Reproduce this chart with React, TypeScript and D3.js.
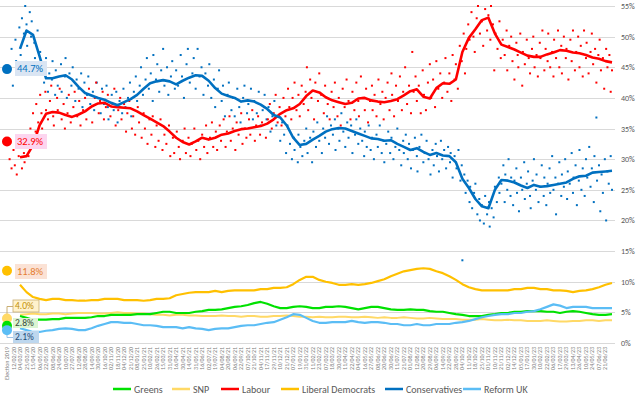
import React, { useEffect, useRef } from "react";
import * as d3 from "d3";

const W = 639;
const H = 398;

// x axis: one slot per tick label, "Election 2019" at slot 0
const tickLabels = [
  "Election 2019",
  "12/02/20", "04/03/20", "25/03/20", "15/04/20", "06/05/20", "22/05/20", "08/06/20", "24/06/20", "10/07/20", "27/07/20",
  "12/08/20", "28/08/20", "14/09/20", "30/09/20", "16/10/20", "02/11/20", "18/11/20", "04/12/20", "21/12/20", "08/01/21",
  "25/01/21", "10/02/21", "26/02/21", "15/03/21", "31/03/21", "16/04/21", "30/04/21", "14/05/21", "31/05/21", "16/06/21",
  "02/07/21", "19/07/21", "04/08/21", "20/08/21", "06/09/21", "22/09/21", "07/10/21", "21/10/21", "04/11/21", "17/11/21",
  "29/11/21", "10/12/21", "21/12/21", "07/01/22", "19/01/22", "31/01/22", "11/02/22", "23/02/22", "07/03/22", "18/03/22",
  "30/03/22", "11/04/22", "22/04/22", "04/05/22", "16/05/22", "27/05/22", "08/06/22", "20/06/22", "30/06/22", "11/07/22",
  "21/07/22", "01/08/22", "12/08/22", "20/08/22", "29/08/22", "06/09/22", "14/09/22", "22/09/22", "28/09/22", "04/10/22",
  "11/10/22", "18/10/22", "25/10/22", "01/11/22", "10/11/22", "21/11/22", "02/12/22", "14/12/22", "05/01/23", "17/01/23",
  "30/01/23", "10/02/23", "22/02/23", "06/03/23", "17/03/23", "29/03/23", "13/04/23", "26/04/23", "10/05/23", "24/05/23",
  "07/06/23", "21/06/23",
];

const yTicks = [0, 5, 10, 15, 20, 25, 30, 35, 40, 45, 50, 55];

// rolling averages, one value per slot starting at slot 2
const firstSlot = 2;

const greens = [
  4.4, 4.1, 3.8, 3.8, 3.8, 3.9, 3.9, 4.1, 4.1, 4.1,
  4.1, 4.2, 4.4, 4.4, 4.6, 4.6, 4.6, 4.6, 4.7, 4.7,
  4.7, 4.9, 5.1, 5.1, 4.9, 4.9, 4.9, 5.1, 5.2, 5.4,
  5.4, 5.5, 5.7, 5.9, 6.0, 6.2, 6.5, 6.7, 6.4, 6.0,
  5.7, 5.7, 5.9, 6.0, 5.9, 5.7, 5.7, 5.9, 5.9, 6.0,
  5.9, 5.7, 5.5, 5.7, 5.9, 5.9, 5.7, 5.5, 5.4, 5.4,
  5.5, 5.4, 5.4, 5.2, 5.1, 5.1, 4.9, 4.7, 4.6, 4.4,
  4.4, 4.4, 4.6, 4.7, 4.9, 4.9, 5.1, 5.1, 5.2, 5.2,
  5.2, 5.1, 5.1, 4.9, 5.1, 5.2, 5.1, 4.9, 4.7, 4.6,
  4.6, 4.7,
];

const snp = [
  4.6, 4.7, 4.8, 4.7, 4.7, 4.8, 4.8, 4.7, 4.8, 4.9,
  4.9, 4.9, 4.8, 4.8, 4.9, 5.0, 4.9, 4.9, 4.8, 4.8,
  4.7, 4.6, 4.6, 4.5, 4.6, 4.6, 4.5, 4.5, 4.4, 4.4,
  4.4, 4.5, 4.4, 4.4, 4.3, 4.4, 4.4, 4.3, 4.3, 4.4,
  4.4, 4.5, 4.4, 4.3, 4.3, 4.2, 4.3, 4.2, 4.2, 4.3,
  4.3, 4.2, 4.2, 4.3, 4.2, 4.1, 4.2, 4.1, 4.1, 4.2,
  4.1, 4.0, 4.0, 4.1, 4.0, 3.9, 3.9, 3.9, 3.8, 3.8,
  3.8, 3.9, 3.8, 3.7, 3.7, 3.8, 3.7, 3.7, 3.6, 3.6,
  3.6, 3.7, 3.6, 3.5, 3.5, 3.6, 3.6, 3.7, 3.7, 3.6,
  3.7, 3.7,
];

const labour = [
  30.3, 30.5, 32.3, 35.5, 37.4, 37.7, 37.6, 37.2, 36.9, 37.3,
  37.8, 38.6, 39.1, 39.2, 38.6, 38.5, 38.4, 38.3, 37.8, 37.2,
  36.6, 36.0, 35.4, 34.5, 33.5, 32.8, 32.4, 32.9, 33.5, 33.2,
  33.5, 34.0, 34.2, 34.6, 34.9, 35.0, 35.2, 35.4, 35.8, 36.5,
  37.4, 38.0, 38.3, 39.0, 40.3, 41.2, 40.9, 40.1, 39.6, 39.3,
  39.0, 39.2, 39.9, 40.0, 39.6, 39.4, 39.3, 39.5, 39.8, 40.4,
  41.1, 41.4, 40.2, 39.9, 41.6, 42.4, 42.3, 43.0, 47.5, 49.8,
  51.2, 52.7, 53.1, 50.5, 48.7, 48.3, 47.9, 47.4, 46.9, 46.7,
  46.7, 47.1, 47.4, 47.8, 47.7, 47.4, 47.3, 47.0, 46.6, 46.4,
  46.0, 45.8,
];

const libDems = [
  9.5, 8.3, 7.5, 7.2, 7.0, 7.2, 7.2, 7.0, 7.0, 6.9,
  6.9, 7.0, 7.0, 7.2, 7.2, 7.2, 7.0, 7.0, 7.0, 6.9,
  7.0, 7.2, 7.2, 7.3, 7.8, 8.0, 8.2, 8.3, 8.3, 8.3,
  8.5, 8.3, 8.5, 8.6, 8.6, 8.6, 8.6, 8.8, 8.8, 9.0,
  9.0, 9.1, 9.6, 10.3, 10.8, 10.8, 10.3, 10.0, 9.8, 9.5,
  9.5, 9.6, 9.5, 9.6, 9.8, 10.1, 10.4, 10.9, 11.3, 11.7,
  11.9, 12.1, 12.2, 12.1, 11.7, 11.4, 10.9, 10.3, 9.6, 9.1,
  8.8, 8.6, 8.6, 8.6, 8.6, 8.6, 8.8, 8.8, 9.0, 9.0,
  8.8, 8.8, 8.6, 8.6, 8.5, 8.3, 8.5, 8.6, 8.8, 9.1,
  9.5, 9.8,
];

const conservatives = [
  48.0, 51.0, 50.3, 46.8, 43.2, 43.2, 43.5, 43.7, 43.0, 41.8,
  40.8, 40.4, 40.0, 39.7, 39.2, 38.8, 39.3, 39.8, 40.5, 41.5,
  42.4, 42.7, 42.9, 42.7, 42.2, 42.8, 43.3, 43.7, 43.6, 42.8,
  41.6, 40.7, 40.3, 40.0, 39.4, 39.6, 39.4, 38.9, 38.2, 37.2,
  36.8, 35.5, 33.5, 32.3, 32.5, 33.2, 33.8, 34.5, 34.9, 35.1,
  35.0, 34.6, 34.2, 33.8, 33.4, 33.3, 33.0, 33.1, 32.5, 32.0,
  31.5, 31.8, 31.2, 30.7, 31.0, 30.6, 30.5, 29.5, 26.8, 25.3,
  23.5, 22.3, 22.0, 25.0, 26.6, 26.5, 26.2, 25.7, 25.3, 25.8,
  25.5, 25.6, 25.8, 26.0, 26.2, 26.8, 27.2, 27.3, 27.8, 27.9,
  28.0, 28.1,
];

const reformUK = [
  2.4, 2.1, 1.8, 1.8, 2.0, 2.1, 2.3, 2.4, 2.3, 2.1,
  2.1, 2.4, 2.8, 3.1, 3.4, 3.4, 3.3, 3.3, 3.1, 2.9,
  2.9, 2.8, 2.6, 2.6, 2.6, 2.4, 2.6, 2.4, 2.3, 2.1,
  2.3, 2.4, 2.4, 2.6, 2.8, 2.9, 2.9, 3.1, 3.3, 3.4,
  3.8, 4.2, 4.7, 4.6, 4.1, 3.6, 3.3, 3.3, 3.4, 3.4,
  3.4, 3.6, 3.4, 3.3, 3.4, 3.4, 3.3, 3.1, 3.1, 2.9,
  2.9, 3.1, 2.9, 2.9, 3.1, 3.1, 3.1, 3.3, 3.4, 3.6,
  3.9, 4.2, 4.4, 4.6, 4.7, 4.7, 4.9, 4.9, 5.1, 5.2,
  5.5, 5.9, 6.3, 6.1, 5.7, 5.9, 5.9, 5.9, 5.7, 5.7,
  5.7, 5.7,
];

// individual polls [slot, value]
const conPolls: [number, number][] = [
  [0.4, 44.5], [0.7, 48], [0.9, 42], [1.3, 49.5], [1.4, 46], [1.9, 51.5], [2.1, 47], [2.3, 53], [2.6, 50.5], [2.8, 55],
  [3.0, 52], [3.1, 48.5], [3.5, 54], [3.7, 50], [3.8, 52.5], [4.2, 49], [4.3, 46.5], [4.7, 51], [5.0, 44], [5.1, 47.5],
  [5.6, 45], [5.7, 42.5], [6.0, 46.5], [6.3, 41], [6.5, 44], [6.9, 43], [7.0, 46], [7.4, 40.5], [7.5, 44.5], [7.8, 42],
  [8.3, 45.5], [8.4, 41], [8.9, 43.5], [9.0, 46.5], [9.2, 40], [9.6, 44], [9.9, 42], [10.1, 45], [10.5, 39.5], [10.7, 43],
  [11.0, 41.5], [11.4, 44], [11.6, 38.5], [11.9, 42.5], [12.3, 40.5], [12.5, 43.5], [12.8, 39], [13.2, 41], [13.4, 38], [13.8, 42.5],
  [14.0, 40], [14.4, 37.5], [14.6, 41.5], [14.9, 39], [15.3, 42], [15.5, 38.5], [15.6, 36.5], [16.1, 40.5], [16.4, 38], [16.8, 41],
  [17.0, 36], [17.3, 39.5], [17.7, 37.5], [17.9, 41.5], [18.2, 38.5], [18.6, 40], [18.9, 42.5], [19.1, 37], [19.5, 41], [19.8, 43.5],
  [20.0, 39.5], [20.4, 42], [20.6, 45], [20.9, 40.5], [21.3, 43], [21.5, 46.5], [21.8, 41.5], [22.1, 44], [22.4, 39.5], [22.5, 47],
  [22.9, 43], [23.1, 45.5], [23.4, 41], [23.7, 44.5], [24.0, 48], [24.2, 42], [24.6, 45], [24.8, 40.5], [25.2, 43.5], [25.4, 46],
  [25.8, 41.5], [26.0, 44.5], [26.3, 42], [26.7, 47], [26.9, 43.5], [27.2, 40], [27.6, 45.5], [27.8, 48], [28.1, 42.5], [28.5, 44],
  [28.7, 46.5], [29.0, 41.5], [29.3, 48], [29.6, 43.5], [29.9, 45], [30.2, 40.5], [30.5, 44], [30.9, 42], [31.1, 45.5], [31.4, 40],
  [31.8, 43], [32.0, 38.5], [32.4, 41.5], [32.6, 44.5], [33.0, 39.5], [33.2, 42], [33.5, 37], [33.9, 40.5], [34.1, 42.5], [34.5, 38],
  [34.8, 40], [35.0, 37], [35.4, 41.5], [35.7, 38.5], [35.9, 36], [36.3, 40], [36.5, 42], [36.9, 37.5], [37.1, 39], [37.5, 41.5],
  [37.8, 36.5], [38.0, 39.5], [38.4, 37.5], [38.7, 41], [39.0, 35.5], [39.3, 38], [39.6, 40.5], [39.9, 36.5], [40.2, 38.5], [40.5, 34.5],
  [40.8, 37], [41.1, 39.5], [41.4, 35.5], [41.7, 37], [42.0, 33], [42.3, 36], [42.6, 34], [42.9, 31], [43.1, 35.5], [43.5, 32.5],
  [43.8, 30], [44.1, 33.5], [44.2, 31.5], [44.7, 29.5], [44.8, 34], [45.1, 32], [45.4, 30.5], [45.7, 33], [46.0, 35], [46.2, 31],
  [46.6, 33.5], [46.9, 29.5], [47.1, 34.5], [47.5, 32], [47.7, 36], [48.0, 33], [48.4, 31], [48.6, 35], [48.9, 33.5], [49.2, 37],
  [49.5, 32.5], [49.8, 35.5], [50.1, 34], [50.4, 36.5], [50.5, 31.5], [50.9, 35], [51.1, 33], [51.4, 37.5], [51.7, 34.5], [52.0, 32],
  [52.3, 36], [52.5, 33.5], [52.9, 35.5], [53.1, 31], [53.5, 34], [53.7, 36.5], [54.0, 32.5], [54.3, 35], [54.6, 33], [54.9, 30.5],
  [55.0, 34.5], [55.3, 32], [55.6, 35.5], [55.9, 31.5], [56.1, 33.5], [56.4, 30], [56.8, 34], [57.0, 32], [57.3, 35.5], [57.6, 31],
  [57.9, 33], [58.0, 29.5], [58.3, 32.5], [58.6, 34.5], [58.9, 31], [59.1, 33.5], [59.4, 30], [59.7, 32], [60.0, 35], [60.3, 31.5],
  [60.6, 29], [60.9, 33], [61.0, 31], [61.3, 34], [61.6, 30], [61.8, 32.5], [62.1, 28.5], [62.4, 31.5], [62.7, 33.5], [63.0, 30.5],
  [63.1, 28], [63.4, 32], [63.7, 34], [64.0, 29.5], [64.2, 31], [64.5, 33], [64.8, 30], [65.1, 27.5], [65.4, 31.5], [65.6, 29],
  [65.9, 32.5], [66.1, 30.5], [66.4, 28], [66.7, 33], [66.9, 30], [67.2, 31.5], [67.5, 28.5], [67.8, 32], [68.1, 29.5], [68.2, 31],
  [68.5, 27], [68.8, 30.5], [69.1, 28.5], [69.4, 31.5], [69.7, 26.5], [69.9, 29], [70.0, 13.5], [70.3, 27.5], [70.5, 24.5], [70.8, 26.5],
  [71.1, 23], [71.2, 25.5], [71.5, 22], [71.8, 24.5], [72.0, 26], [72.3, 21], [72.6, 23.5], [72.7, 20], [73.0, 22.5], [73.3, 19.5],
  [73.5, 24], [73.8, 21], [74.1, 23], [74.2, 19], [74.5, 22], [74.8, 20.5], [75.0, 25.5], [75.3, 23], [75.6, 27], [75.7, 24.5],
  [76.0, 26], [76.3, 29], [76.5, 23], [76.6, 27.5], [76.9, 25], [77.1, 30], [77.4, 24], [77.5, 27], [77.8, 22.5], [78.0, 26.5],
  [78.3, 28.5], [78.4, 24.5], [78.7, 21.5], [79.0, 27], [79.2, 25], [79.5, 29.5], [79.6, 23.5], [79.9, 26], [80.1, 28], [80.4, 24],
  [80.5, 22], [80.8, 26.5], [81.0, 30], [81.3, 25], [81.4, 27.5], [81.7, 23], [82.0, 25.5], [82.2, 29], [82.5, 24], [82.6, 27],
  [82.9, 22.5], [83.1, 26], [83.4, 28.5], [83.5, 24.5], [83.8, 30.5], [84.0, 25], [84.3, 27], [84.4, 21], [84.7, 26], [84.9, 29.5],
  [85.2, 24], [85.3, 27.5], [85.6, 25.5], [85.8, 30], [86.1, 23.5], [86.2, 28], [86.5, 26], [86.8, 31], [87.0, 24.5], [87.1, 27],
  [87.4, 29], [87.6, 22.5], [87.9, 26.5], [88.0, 31.5], [88.3, 25], [88.5, 28.5], [88.8, 24], [89.0, 30], [89.2, 27], [89.5, 32],
  [89.7, 25.5], [89.9, 28.5], [90.2, 23], [90.3, 30.5], [90.6, 36.8], [90.7, 26.5], [91.0, 29], [91.2, 21.5], [91.4, 27.5], [91.6, 24.5],
  [91.9, 30], [92.1, 20], [92.3, 28], [92.5, 26], [92.8, 30.5], [93.0, 25],
];

const labPolls: [number, number][] = [
  [0.4, 30], [0.7, 28.5], [1.0, 31.5], [1.2, 29], [1.5, 27.5], [1.8, 30.5], [2.0, 32], [2.3, 28.5], [2.6, 31], [2.7, 29.5],
  [3.1, 33.5], [3.3, 30.5], [3.6, 35], [3.9, 32], [4.0, 37.5], [4.4, 34.5], [4.5, 39], [4.8, 36], [5.1, 40.5], [5.3, 37.5],
  [5.4, 35], [5.9, 41], [6.0, 38], [6.3, 36.5], [6.6, 39.5], [6.8, 42], [7.1, 37], [7.2, 35.5], [7.7, 40], [7.8, 38],
  [8.1, 41.5], [8.4, 36.5], [8.7, 39], [8.9, 35], [9.3, 37.5], [9.5, 40.5], [9.8, 36], [10.2, 38.5], [10.4, 41], [10.8, 37],
  [11.1, 39.5], [11.3, 35.5], [11.7, 38], [12.0, 40], [12.2, 36.5], [12.6, 41.5], [12.9, 38.5], [13.1, 36], [13.5, 40], [13.7, 42.5],
  [14.1, 37.5], [14.3, 39.5], [14.7, 41], [14.9, 36.5], [15.2, 38.5], [15.5, 40.5], [15.9, 37], [16.2, 39], [16.5, 41.5], [16.7, 35.5],
  [17.1, 38], [17.4, 40], [17.6, 36.5], [18.0, 39], [18.3, 34.5], [18.5, 37.5], [18.8, 39.5], [19.2, 35], [19.4, 37], [19.7, 34],
  [20.1, 38.5], [20.3, 36], [20.7, 33.5], [21.0, 37.5], [21.2, 35], [21.6, 32.5], [21.9, 36.5], [22.2, 34], [22.4, 37], [22.8, 32],
  [23.0, 35.5], [23.3, 33], [23.6, 36.5], [23.9, 31.5], [24.2, 34], [24.5, 32.5], [24.9, 35.5], [25.1, 30.5], [25.5, 33.5], [25.7, 31],
  [26.1, 34.5], [26.4, 32], [26.6, 30], [27.0, 33], [27.3, 35], [27.5, 31], [27.9, 33.5], [28.2, 30.5], [28.4, 32.5], [28.8, 35],
  [29.1, 31.5], [29.4, 33], [29.7, 30], [30.0, 34], [30.3, 32], [30.6, 35.5], [30.8, 31], [31.2, 33.5], [31.5, 36], [31.7, 32],
  [32.1, 34.5], [32.3, 31.5], [32.7, 35.5], [32.9, 33], [33.3, 36.5], [33.6, 32], [33.8, 34.5], [34.2, 37], [34.4, 33], [34.7, 35],
  [35.1, 31.5], [35.3, 36], [35.6, 34], [36.0, 37.5], [36.2, 32.5], [36.6, 35], [36.8, 33.5], [37.2, 36.5], [37.4, 34], [37.7, 38],
  [38.1, 33], [38.3, 35.5], [38.6, 37], [38.9, 34], [39.2, 36], [39.5, 38.5], [39.8, 33.5], [40.1, 36.5], [40.4, 39], [40.7, 35],
  [41.0, 37.5], [41.3, 40.5], [41.6, 36], [41.9, 38.5], [42.2, 35.5], [42.5, 40], [42.8, 37], [43.2, 41.5], [43.4, 38.5], [43.7, 36.5],
  [43.9, 40], [44.2, 42.5], [44.5, 38], [44.8, 40.5], [45.0, 37], [45.3, 42], [45.6, 39], [45.9, 41], [46.1, 45], [46.3, 38],
  [46.6, 43], [46.8, 40], [47.2, 36.5], [47.4, 42.5], [47.8, 39.5], [48.0, 44], [48.3, 40.5], [48.7, 37.5], [48.9, 42], [49.3, 39],
  [49.6, 36.5], [49.9, 41], [50.2, 38.5], [50.4, 42.5], [50.8, 37], [51.0, 40], [51.3, 35.5], [51.6, 41.5], [51.9, 38.5], [52.2, 43],
  [52.5, 39.5], [52.8, 36.5], [53.1, 41], [53.4, 38], [53.7, 42.5], [54.0, 39.5], [54.1, 37], [54.4, 43.5], [54.7, 40], [55.0, 38],
  [55.2, 41.5], [55.5, 36], [55.8, 39.5], [56.1, 42], [56.2, 38], [56.5, 40.5], [56.8, 37], [57.1, 43], [57.4, 39], [57.7, 41],
  [57.9, 36.5], [58.2, 40], [58.5, 42.5], [58.8, 38], [59.1, 44], [59.2, 40.5], [59.5, 37], [59.8, 42], [60.1, 39.5], [60.4, 43.5],
  [60.7, 38], [60.9, 41], [61.2, 45], [61.5, 39], [61.8, 42], [62.1, 37.5], [62.3, 47.5], [62.5, 41], [62.8, 43.5], [63.0, 39.5],
  [63.3, 42], [63.6, 37.5], [63.9, 44.5], [64.1, 40.5], [64.4, 38], [64.7, 42.5], [65.0, 45.5], [65.2, 40], [65.5, 43], [65.8, 38.5],
  [66.0, 46], [66.3, 41.5], [66.6, 44], [66.9, 40], [67.2, 42.5], [67.4, 46.5], [67.7, 41], [68.0, 44], [68.3, 39.5], [68.5, 47],
  [68.8, 43], [69.0, 45.5], [69.3, 41.5], [69.6, 48.5], [69.9, 46], [70.2, 50.5], [70.4, 44], [70.6, 48], [70.9, 52], [71.1, 49.5],
  [71.4, 54], [71.7, 50], [71.9, 47.5], [72.2, 53], [72.4, 55], [72.7, 50.5], [73.0, 52.5], [73.2, 48.5], [73.5, 54.5], [73.8, 51],
  [74.0, 53.5], [74.3, 49.5], [74.4, 55], [74.7, 52], [74.9, 44.5], [75.1, 50.5], [75.4, 48], [75.7, 52.5], [75.9, 46.5], [76.2, 49.5],
  [76.5, 47], [76.8, 51], [76.9, 44.5], [77.2, 48.5], [77.5, 50], [77.7, 46], [78.0, 43], [78.3, 49], [78.5, 47], [78.6, 45],
  [78.9, 50.5], [79.2, 42], [79.3, 47.5], [79.6, 45.5], [79.9, 49.5], [80.2, 46.5], [80.4, 44], [80.7, 48], [80.9, 50], [81.1, 45],
  [81.4, 47], [81.6, 43.5], [81.9, 49], [82.0, 46.5], [82.3, 51], [82.6, 44.5], [82.8, 48], [83.1, 46], [83.2, 50.5], [83.5, 45],
  [83.8, 47.5], [84.0, 43.5], [84.1, 49.5], [84.4, 46.5], [84.7, 51], [84.9, 45], [85.2, 48.5], [85.3, 44], [85.6, 50], [85.9, 46.5],
  [86.0, 48], [86.3, 43], [86.6, 49.5], [86.8, 46], [87.0, 51], [87.3, 44.5], [87.5, 47.5], [87.8, 50], [88.0, 45], [88.2, 48.5],
  [88.5, 43.5], [88.7, 51], [89.0, 46.5], [89.1, 49], [89.4, 44], [89.7, 47.5], [89.9, 50.5], [90.1, 45.5], [90.4, 48], [90.6, 42.5],
  [90.9, 47], [91.1, 49.5], [91.3, 44.5], [91.6, 46.5], [91.8, 41.5], [92.1, 48], [92.3, 45], [92.6, 47], [92.8, 41], [93.0, 44.5],
];

// 2019 general election result, drawn at slot 0
const partyNames = ["Greens", "SNP", "Labour", "Liberal Democrats", "Conservatives", "Reform UK"];
const electionResult = [2.8, 4.0, 32.9, 11.8, 44.7, 2.1];

const colors: Record<string, string> = {
  "Greens": "#00e100",
  "SNP": "#ffd966",
  "Labour": "#ff0000",
  "Liberal Democrats": "#ffc000",
  "Conservatives": "#0070c0",
  "Reform UK": "#5bbdf5",
};

const FONT = "Carlito, Calibri, Lato, 'Open Sans', sans-serif";

export default function App() {
  const ref = useRef<SVGSVGElement>(null);

  useEffect(() => {
    const svg = d3.select(ref.current);
    svg.selectAll("*").remove();

    const x = d3.scaleLinear().domain([0, 93]).range([7, 612]);
    const y = d3.scaleLinear().domain([0, 55]).range([343, 6]);

    svg.append("rect").attr("width", W).attr("height", H).style("fill", "#ffffff");

    // gridlines + right axis
    svg.append("g").selectAll("line").data(yTicks).enter().append("line")
      .attr("x1", 0).attr("x2", 615)
      .attr("y1", (d) => Math.round(y(d)) + 0.5).attr("y2", (d) => Math.round(y(d)) + 0.5)
      .style("stroke", "#d9d9d9").style("stroke-width", 1);

    svg.append("g").selectAll("text").data(yTicks).enter().append("text")
      .attr("x", 621).attr("y", (d) => y(d) + 3)
      .style("font-family", FONT).style("font-size", "8px").style("fill", "#595959")
      .text((d) => d + "%");

    // x tick labels, rotated
    svg.append("g").selectAll("text").data(tickLabels).enter().append("text")
      .attr("transform", (d, i) => `translate(${x(i) + 2},347) rotate(-90)`)
      .attr("text-anchor", "end")
      .style("font-family", FONT).style("font-size", "6px").style("fill", "#7f7f7f")
      .text((d) => d);

    // poll dots
    const dots = (data: [number, number][], color: string) => {
      svg.append("g").selectAll("rect").data(data).enter().append("rect")
        .attr("x", (d) => x(d[0]) - 1).attr("y", (d) => y(d[1]) - 1)
        .attr("width", 2).attr("height", 2)
        .style("fill", color);
    };
    dots(conPolls, colors["Conservatives"]);
    dots(labPolls, colors["Labour"]);

    // rolling average lines
    const line = d3.line<number>()
      .x((d, i) => x(firstSlot + i))
      .y((d) => y(d));

    const series: [string, number[], number][] = [
      ["SNP", snp, 2],
      ["Greens", greens, 2.2],
      ["Reform UK", reformUK, 2.2],
      ["Liberal Democrats", libDems, 2.2],
      ["Labour", labour, 2.6],
      ["Conservatives", conservatives, 2.6],
    ];
    series.forEach(([name, values, w]) => {
      svg.append("path")
        .attr("d", line(values))
        .style("fill", "none")
        .style("stroke", colors[name])
        .style("stroke-width", w)
        .style("stroke-linejoin", "round");
    });

    // election result markers + callouts
    const callouts: Record<string, { bx: number; by: number; bw: number; bh: number; fill: string; text: string; stroke?: string; size: number }> = {
      "Conservatives": { bx: 15, by: 61, bw: 32, bh: 15, fill: "#dae5f3", text: "#0070c0", size: 10.5 },
      "Labour": { bx: 15, by: 134, bw: 32, bh: 15, fill: "#fcd5ef", text: "#ff0000", size: 10.5 },
      "Liberal Democrats": { bx: 15, by: 264, bw: 32, bh: 15, fill: "#fbe2d5", text: "#e57e30", size: 10.5 },
      "SNP": { bx: 13, by: 300, bw: 26, bh: 12, fill: "#fff2cc", text: "#bf9000", stroke: "#c9ae72", size: 9.5 },
      "Greens": { bx: 13, by: 318, bw: 25, bh: 10, fill: "#dbf5d2", text: "#3a4a3a", size: 9.5 },
      "Reform UK": { bx: 13, by: 331, bw: 26, bh: 12, fill: "#bdd7ee", text: "#1f4e79", size: 9.5 },
    };

    // leader lines for the crowded small parties
    const lead = d3.line<[number, number]>();
    svg.append("path")
      .attr("d", lead([[x(0), y(4.0) - 4], [x(0), 306.5], [13, 306.5]]))
      .style("fill", "none").style("stroke", "#c9ae72").style("stroke-width", 1);
    svg.append("path")
      .attr("d", lead([[x(0), y(2.1) + 4], [x(0), 337.5], [13, 337.5]]))
      .style("fill", "none").style("stroke", "#9dc3e6").style("stroke-width", 1);

    const order = ["SNP", "Greens", "Reform UK", "Liberal Democrats", "Labour", "Conservatives"];
    order.forEach((name) => {
      const v = electionResult[partyNames.indexOf(name)];
      svg.append("circle")
        .attr("cx", x(0)).attr("cy", y(v)).attr("r", 5)
        .style("fill", colors[name]);
    });
    order.forEach((name) => {
      const v = electionResult[partyNames.indexOf(name)];
      const c = callouts[name];
      svg.append("rect")
        .attr("x", c.bx).attr("y", c.by).attr("width", c.bw).attr("height", c.bh)
        .style("fill", c.fill)
        .style("stroke", c.stroke || "none").style("stroke-width", 0.8);
      svg.append("text")
        .attr("x", c.bx + 2).attr("y", c.by + c.bh / 2 + c.size * 0.35)
        .style("font-family", FONT).style("font-size", c.size + "px").style("fill", c.text)
        .text(v.toFixed(1) + "%");
    });

    // legend
    const legendX = [113, 172, 221, 281, 385, 463];
    const legend = svg.append("g").attr("transform", "translate(0,389)");
    partyNames.forEach((name, i) => {
      legend.append("line")
        .attr("x1", legendX[i]).attr("x2", legendX[i] + 18)
        .attr("y1", 0).attr("y2", 0)
        .style("stroke", colors[name]).style("stroke-width", 2.5);
      legend.append("text")
        .attr("x", legendX[i] + 21).attr("y", 3.5)
        .style("font-family", FONT).style("font-size", "10px").style("fill", "#595959")
        .text(name);
    });
  }, []);

  return (
    <svg ref={ref} width={W} height={H} style={{ position: "absolute", left: 0, top: 0 }}></svg>
  );
}
